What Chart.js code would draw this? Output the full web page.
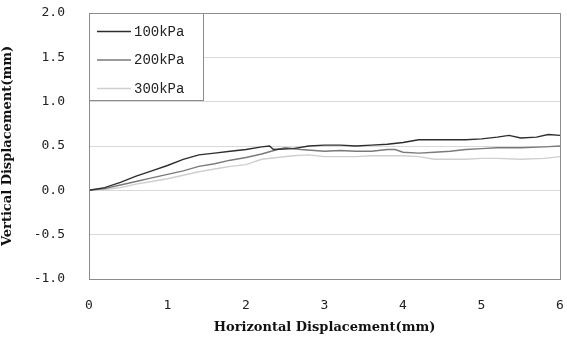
<!DOCTYPE html>
<html lang="en">
<head>
  <meta charset="UTF-8">
  <title>Displacement Chart</title>
  <style>
    body { margin: 0; padding: 0; background-color: #fff; }
    #chart-container { width: 567px; height: 339px; }
    canvas { display: block; }
  </style>
  <script src="https://cdn.jsdelivr.net/npm/chart.js"></script>
</head>
<body>
  <div id="chart-container">
    <canvas id="dispChart" width="567" height="339"></canvas>
  </div>

  <script>
    // data
    const seriesLabels = ['100kPa', '200kPa', '300kPa'];
    const seriesColors = ['#2e2e2e', '#7a7a7a', '#cfcfcf'];

    const x100 = [0, 0.2, 0.4, 0.6, 0.8, 1.0, 1.2, 1.4, 1.6, 1.8, 2.0, 2.2, 2.3, 2.35, 2.6, 2.8, 3.0, 3.2, 3.4, 3.6, 3.8, 4.0, 4.2, 4.4, 4.6, 4.8, 5.0, 5.2, 5.35, 5.5, 5.7, 5.85, 6.0];
    const y100 = [0, 0.03, 0.09, 0.16, 0.22, 0.28, 0.35, 0.40, 0.42, 0.44, 0.46, 0.49, 0.50, 0.46, 0.47, 0.50, 0.51, 0.51, 0.50, 0.51, 0.52, 0.54, 0.57, 0.57, 0.57, 0.57, 0.58, 0.60, 0.62, 0.59, 0.60, 0.63, 0.62];

    const x200 = [0, 0.2, 0.4, 0.6, 0.8, 1.0, 1.2, 1.4, 1.6, 1.8, 2.0, 2.2, 2.4, 2.5, 2.7, 3.0, 3.2, 3.4, 3.6, 3.8, 3.9, 4.0, 4.2, 4.4, 4.6, 4.8, 5.0, 5.2, 5.5, 5.8, 6.0];
    const y200 = [0, 0.02, 0.06, 0.10, 0.14, 0.18, 0.22, 0.27, 0.30, 0.34, 0.37, 0.41, 0.46, 0.48, 0.46, 0.44, 0.45, 0.44, 0.44, 0.46, 0.46, 0.43, 0.42, 0.43, 0.44, 0.46, 0.47, 0.48, 0.48, 0.49, 0.50];

    const x300 = [0, 0.2, 0.4, 0.6, 0.8, 1.0, 1.2, 1.4, 1.6, 1.8, 2.0, 2.2, 2.4, 2.6, 2.8, 3.0, 3.2, 3.4, 3.6, 3.8, 4.0, 4.2, 4.4, 4.6, 4.8, 5.0, 5.2, 5.5, 5.8, 6.0];
    const y300 = [0, 0.01, 0.03, 0.07, 0.10, 0.13, 0.17, 0.21, 0.24, 0.27, 0.29, 0.35, 0.37, 0.39, 0.40, 0.38, 0.38, 0.38, 0.39, 0.39, 0.39, 0.38, 0.35, 0.35, 0.35, 0.36, 0.36, 0.35, 0.36, 0.38];

    const xTicks = [0, 1, 2, 3, 4, 5, 6];
    const yTicks = [-1.0, -0.5, 0.0, 0.5, 1.0, 1.5, 2.0];

    const toPoints = (xs, ys) => xs.map((x, i) => ({ x: x, y: ys[i] }));
    const allX = [x100, x200, x300];
    const allY = [y100, y200, y300];

    const tickFont = { family: "'DejaVu Sans Mono', monospace", size: 13 };
    const titleFont = { family: "'DejaVu Serif', serif", size: 13, weight: 'bold' };

    // box around the plot + legend box in the top left corner
    const frameAndLegend = {
      id: 'frameAndLegend',
      afterDatasetsDraw(chart) {
        const { ctx, chartArea: a } = chart;
        ctx.save();
        ctx.strokeStyle = '#8c8c8c';
        ctx.lineWidth = 1;
        ctx.strokeRect(a.left + 0.5, a.top + 0.5, a.right - a.left, a.bottom - a.top);

        const bx = a.left, by = a.top, bw = 114, bh = 87;
        ctx.fillStyle = '#fff';
        ctx.fillRect(bx, by, bw, bh);
        ctx.strokeRect(bx + 0.5, by + 0.5, bw, bh);
        ctx.font = "14px 'Liberation Mono', monospace";
        ctx.textBaseline = 'middle';
        seriesLabels.forEach((lab, i) => {
          const yy = by + 18 + i * 28.5;
          ctx.strokeStyle = seriesColors[i];
          ctx.lineWidth = 1.3;
          ctx.beginPath();
          ctx.moveTo(bx + 8, yy + 0.5);
          ctx.lineTo(bx + 42, yy + 0.5);
          ctx.stroke();
          ctx.fillStyle = '#222';
          ctx.fillText(lab, bx + 45, yy + 1);
        });
        ctx.restore();
      }
    };

    // draw the light series first so the dark one stays on top
    const datasets = seriesLabels.map((lab, i) => ({
      label: lab,
      data: toPoints(allX[i], allY[i]),
      showLine: true,
      borderColor: seriesColors[i],
      borderWidth: 1.4,
      pointRadius: 0,
      tension: 0,
      order: i
    }));

    const ctx = document.getElementById('dispChart').getContext('2d');
    const dispChart = new Chart(ctx, {
      type: 'scatter',
      data: { datasets: datasets },
      options: {
        responsive: false,
        animation: false,
        layout: { padding: { top: 13, right: 7, left: 0, bottom: 4 } },
        plugins: { legend: { display: false }, tooltip: { enabled: false } },
        scales: {
          x: {
            type: 'linear',
            min: 0, max: 6,
            afterBuildTicks: (s) => { s.ticks = xTicks.map(v => ({ value: v })); },
            afterFit: (s) => { s.height = 56; s.paddingLeft = 0; s.paddingRight = 0; },
            grid: { display: false, drawTicks: false },
            border: { display: false },
            ticks: { color: '#222', font: tickFont, padding: 19, maxRotation: 0, callback: v => String(v) },
            title: { display: true, text: 'Horizontal Displacement(mm)', color: '#111', font: titleFont, padding: { top: 0, bottom: 0 } }
          },
          y: {
            min: -1, max: 2,
            afterBuildTicks: (s) => { s.ticks = yTicks.map(v => ({ value: v })); },
            afterFit: (s) => { s.width = 89; s.paddingTop = 0; s.paddingBottom = 0; },
            grid: { color: '#d9d9d9', drawTicks: false },
            border: { display: false },
            ticks: { color: '#222', font: tickFont, padding: 24, callback: v => v.toFixed(1) },
            title: { display: true, text: 'Vertical Displacement(mm)', color: '#111', font: titleFont, padding: { top: 0, bottom: 4 } }
          }
        }
      },
      plugins: [frameAndLegend]
    });
  </script>
</body>
</html>
